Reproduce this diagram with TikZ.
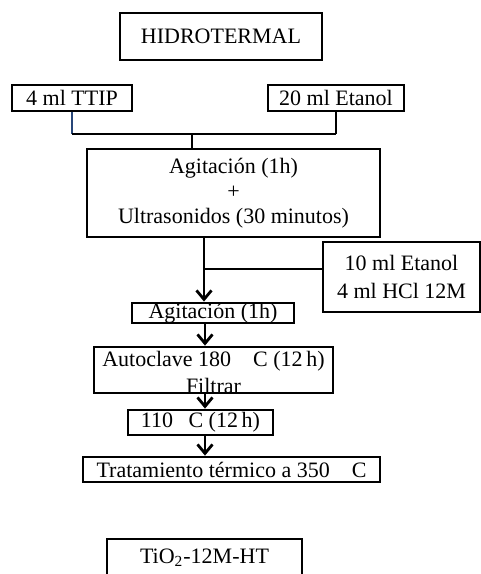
\documentclass[tikz,border=0pt]{standalone}
\usepackage{fontspec}
\setmainfont{Liberation Serif}
\usetikzlibrary{arrows.meta}
\definecolor{linkblue}{RGB}{40,70,120}

\begin{document}
\begin{tikzpicture}[x=0.5pt, y=-0.5pt,
stage/.style={rectangle, draw=black, line width=1.4pt, inner sep=0pt, align=center, font=\fontsize{11}{13.5}\selectfont},
link/.style={draw=black, line width=1.4pt},
flow/.style={link, -{Straight Barb[length=4.5pt, width=7.5pt, line width=1.4pt]}},
]
\useasboundingbox (0,0) rectangle (481,574);
\node[stage, minimum width=101pt, minimum height=23.5pt] (hidro) at (221,36.5) {HIDROTERMAL};
\node[stage, minimum width=60pt, minimum height=13pt] (ttip) at (72,98) {4 ml TTIP};
\node[stage, minimum width=68pt, minimum height=13pt] (etanol) at (336,98) {20 ml Etanol};
\node[stage, minimum width=146.5pt, minimum height=44pt, font=\fontsize{11}{12.5}\selectfont] (agit) at (233.5,193)
    {Agitación (1h)\\+\\Ultrasonidos (30 minutos)};
\node[stage, minimum width=78.5pt, minimum height=35pt, font=\fontsize{11}{14}\selectfont] (hcl) at (401.5,277)
    {10 ml Etanol\\4 ml HCl 12M};
\node[stage, minimum width=81pt, minimum height=10pt] (agit2) at (213,313) {Agitación (1h)};
\node[stage, minimum width=119.5pt, text height=23pt, text depth=0pt] (auto) at (213.5,370)
    {Autoclave 180\hspace{1em}C (12\,h)\\Filtrar};
\node[stage, minimum width=72.5pt, minimum height=12.5pt] (secado) at (200.5,422.5) {110\hspace{0.7em}C (12\,h)};
\node[stage, minimum width=148.5pt, minimum height=12.5pt] (trat) at (231.5,469.5) {Tratamiento térmico a 350\hspace{1em}C};
\node[stage, minimum width=97.5pt, minimum height=18.5pt] (tio) at (204.5,557.5) {TiO\textsubscript{2}-12M-HT};

% mezcla inicial
\coordinate (mix) at (192,134);
\draw[link, draw=linkblue] (ttip.south) -- (ttip.south |- mix);
\draw[link] (etanol.south) -- (etanol.south |- mix);
\draw[link] (ttip.south |- mix) -- (etanol.south |- mix);
\draw[link] (mix) -- (mix |- agit.north);

% columna de proceso
\coordinate (col) at (204,0);
\coordinate (col2) at (205,0);
\coordinate (feed) at (204,269);
\draw[flow] (agit.south -| col) -- (agit2.north -| col);
\draw[link] (feed) -- (hcl.west |- feed);
\draw[flow] (agit2.south -| col2) -- (auto.north -| col2);
\draw[flow] (auto.south -| col2) -- (secado.north -| col2);
\draw[flow] (secado.south -| col2) -- (trat.north -| col2);
\end{tikzpicture}
\end{document}
